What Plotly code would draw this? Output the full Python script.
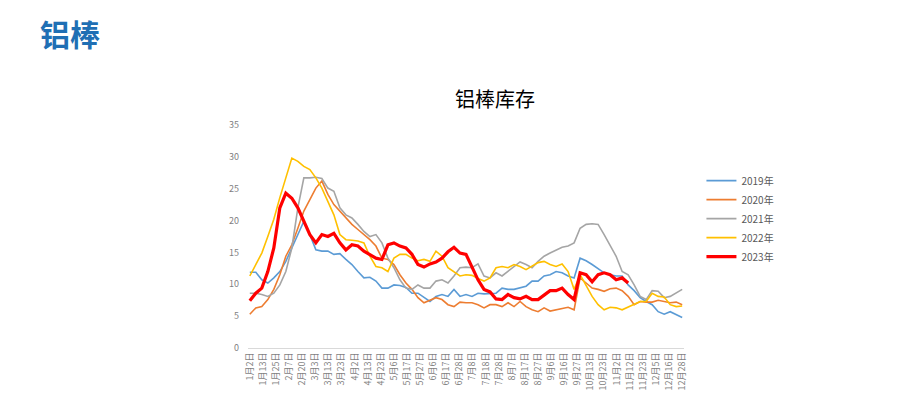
import plotly.graph_objects as go

ticks = ["1月2日","1月13日","1月25日","2月7日","2月20日","3月3日","3月13日","3月23日","4月2日","4月13日","4月23日","5月6日","5月17日","5月27日","6月6日","6月17日","6月28日","7月8日","7月18日","7月28日","8月7日","8月17日","8月27日","9月6日","9月16日","9月27日","10月13日","10月23日","11月2日","11月12日","11月23日","12月5日","12月16日","12月28日"]

y2019 = [11.9,11.9,10.7,10.2,11,12,13.6,15.7,17.8,19.9,17.8,15.4,15.2,15.2,14.7,14.8,13.9,13.1,12,11,11.1,10.5,9.4,9.4,9.9,9.8,9.5,8.6,8.6,7.9,7.3,8.1,8.4,8.1,9.2,8.1,8.4,8.1,8.6,8.5,8.5,8.6,9.4,9.2,9.2,9.4,9.7,10.5,10.5,11.3,11.5,12,11.8,11.3,11,14.1,13.7,13.1,12.5,11.8,11.5,11.3,11.3,9.9,9,7.9,7.3,6.8,5.7,5.3,5.7,5.2,4.8]
y2020 = [5.3,6.3,6.5,7.6,9.2,11.5,14.4,16.2,18.8,21.5,23.3,25.1,26.2,24.1,22.5,21.5,20.4,19.4,18.6,17.8,17,16,14.1,13.9,13.1,11.5,10.2,9.2,7.9,7.1,7.5,7.9,7.6,6.8,6.5,7.2,7.1,7.1,6.8,6.3,6.8,6.8,6.5,7.1,6.5,7.3,6.5,6,5.7,6.3,5.8,6,6.3,6.4,6,11,10.2,9.4,9.2,8.9,9.3,9.4,9,8.1,6.8,7.3,7.2,7.2,7.5,7.3,7.1,7.2,6.8]
y2021 = [8.6,8.6,8.4,8.1,8.6,9.9,12,15.7,22,26.7,26.7,26.8,26.6,25.1,24.6,22,20.9,20.4,19.4,18.3,17.5,17.8,16.5,14.1,12.6,10.7,9.4,9.2,9.9,9.4,9.4,10.5,10.7,10.2,11.3,12.6,12.7,12.6,13.2,11.3,11,11.8,11.3,12,12.8,13.5,13.1,12.6,13.6,14.4,14.9,15.4,15.8,16,16.5,18.8,19.4,19.5,19.4,17.8,16.2,14.4,12,11.5,9.9,8.1,7.6,9,8.9,7.9,8.1,8.6,9.2]
y2022 = [11.3,13.1,14.9,17.5,20.2,23.6,26.7,29.8,29.3,28.5,28,26.7,25.1,23,20.9,17.8,17,16.9,16.8,16.5,14.4,12.8,12.6,12,14.1,14.7,14.7,14.1,13.7,13.9,13.6,15.2,14.4,12.6,12,11.3,11.5,11.4,10.9,10.5,11,12.6,12.8,12.6,13.1,12.8,12.3,12.8,13.4,13.6,13.1,12.8,13.2,12,9.2,11.5,9.9,8.1,6.8,6,6.4,6.3,6,6.4,6.8,7.3,7.3,8.6,8.1,8,6.8,6.5,6.6]
y2023 = [7.4,8.6,9.4,12,15.7,22,24.3,23.5,22,19.9,17.8,16.5,17.8,17.5,18,16.5,15.4,16.2,16,15.2,14.7,14.1,13.9,16.2,16.5,16,15.7,14.7,13.1,12.7,13.2,13.5,14.1,15.1,15.8,14.9,14.7,12.6,10.7,9.2,8.8,7.7,7.6,8.4,7.9,7.7,8.1,7.6,7.6,8.3,9,9,9.4,8.4,7.6,11.8,11.5,10.4,11.5,11.8,11.5,10.7,11,10.2]

series = [("2019年", y2019, "#5b9bd5", 1.6), ("2020年", y2020, "#ed7d31", 1.6),
          ("2021年", y2021, "#a5a5a5", 1.6), ("2022年", y2022, "#ffc000", 1.6),
          ("2023年", y2023, "#ff0000", 3.2)]

n = len(y2019)
fig = go.Figure()
for name, ys, c, w in series:
    fig.add_trace(go.Scatter(x=list(range(len(ys))), y=ys, mode="lines", name=name,
                             line=dict(color=c, width=w)))
nt = len(ticks)
tv = [i * (n - 1) / (nt - 1) for i in range(nt)]
L, R, T, B = 240, 229, 117, 78
pw, ph = 905 - L - R, 418 - T - B
def px(x): return (x - L) / pw
def py(y): return (418 - B - y) / ph
fig.update_layout(
    width=905, height=418, paper_bgcolor="white", plot_bgcolor="white",
    margin=dict(l=L, r=R, t=T, b=B),
    font=dict(family="Noto Sans CJK SC", color="#595959"),
    showlegend=True,
    legend=dict(x=1.04, y=0.58, yanchor="middle", xanchor="left", font=dict(size=10),
                tracegroupgap=0, itemwidth=30, bgcolor="rgba(0,0,0,0)"),
    xaxis=dict(tickmode="array", tickvals=tv, ticktext=ticks, tickangle=-90,
               range=[-0.3, n - 0.7], showgrid=False, showline=True, linecolor="#d9d9d9",
               ticks="", tickfont=dict(size=9, color="#7f7f7f"), zeroline=False),
    yaxis=dict(range=[0, 35], tickmode="array", tickvals=[0,5,10,15,20,25,30,35],
               showgrid=False, zeroline=False, showline=False,
               tickfont=dict(size=9, color="#7f7f7f"), ticks="", ticklabelstandoff=8),
    annotations=[
        dict(text="<b>铝棒</b>", x=px(30), y=py(25), xref="paper", yref="paper", showarrow=False,
             font=dict(size=30, color="#1f6fb4", family="Noto Sans CJK SC"), xanchor="left", yanchor="middle"),
        dict(text="铝棒库存", x=px(487), y=py(90), xref="paper", yref="paper", showarrow=False,
             font=dict(size=20, color="#000000", family="Noto Sans CJK SC"), xanchor="center", yanchor="middle"),
    ],
)
fig.write_html("out.html")
